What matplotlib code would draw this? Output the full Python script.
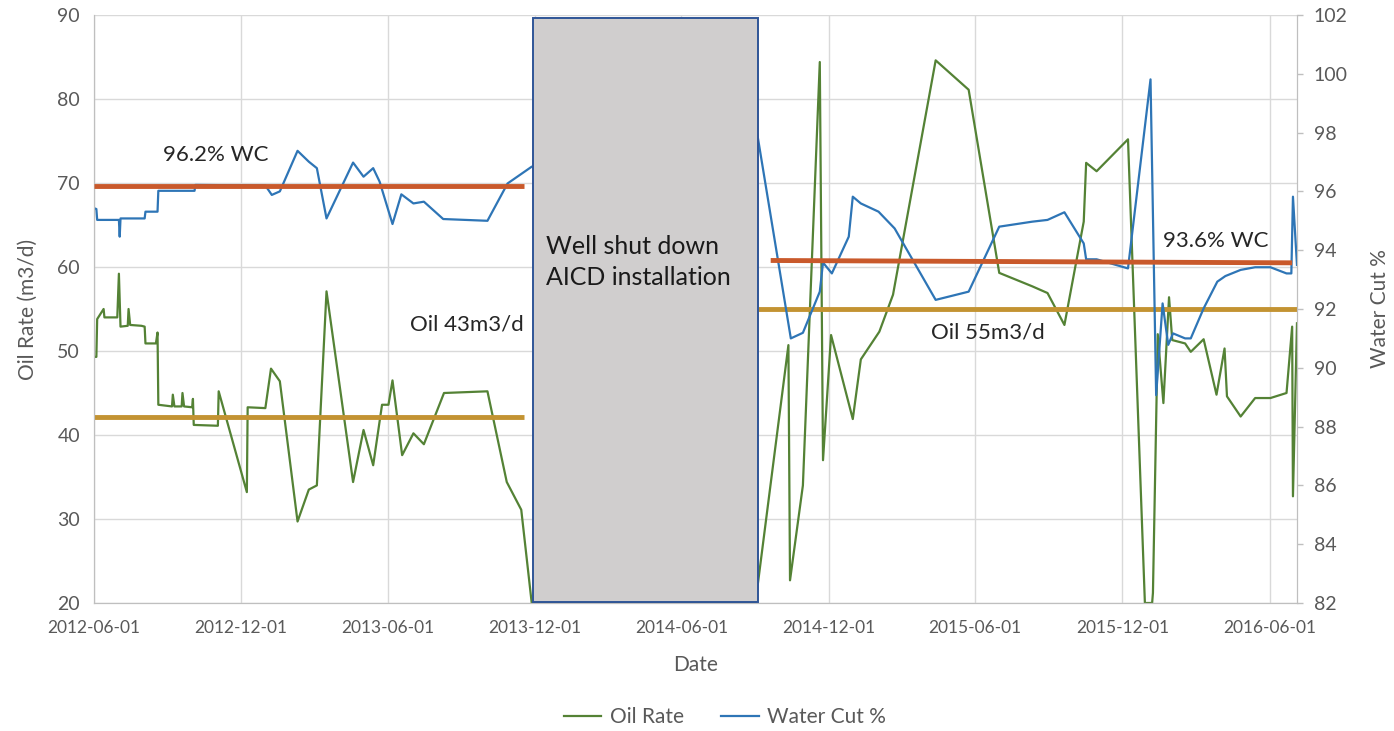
import pandas as pd
import numpy as np
import matplotlib
matplotlib.use('Agg')
import matplotlib.pyplot as plt
import matplotlib.dates as mdates
from matplotlib.patches import Rectangle

plt.rcParams['font.family'] = ['Lato', 'DejaVu Sans']

# Oil rate (m3/d), left axis
oil_dates = ['2012-06-02', '2012-06-04', '2012-06-05', '2012-06-13', '2012-06-14', '2012-06-30',
             '2012-07-02', '2012-07-04', '2012-07-13', '2012-07-14', '2012-07-16', '2012-07-30',
             '2012-08-03', '2012-08-04', '2012-08-17', '2012-08-19', '2012-08-20', '2012-09-06',
             '2012-09-07', '2012-09-09', '2012-09-18', '2012-09-19', '2012-09-21', '2012-10-01',
             '2012-10-02', '2012-10-03', '2012-11-02', '2012-11-03', '2012-12-08', '2012-12-09',
             '2012-12-31', '2013-01-07', '2013-01-18', '2013-02-09', '2013-02-23', '2013-03-05',
             '2013-03-17', '2013-04-19', '2013-05-02', '2013-05-14', '2013-05-25', '2013-06-02',
             '2013-06-07', '2013-06-19', '2013-07-03', '2013-07-16', '2013-08-10', '2013-10-03',
             '2013-10-27', '2013-11-14', '2013-11-27', '2014-07-12', '2014-09-01', '2014-10-12',
             '2014-10-14', '2014-10-30', '2014-11-20', '2014-11-24', '2014-12-04', '2014-12-31',
             '2015-01-10', '2015-02-02', '2015-02-19', '2015-04-13', '2015-05-24', '2015-07-01',
             '2015-08-11', '2015-08-30', '2015-09-20', '2015-10-14', '2015-10-17', '2015-10-30',
             '2015-12-08', '2015-12-29', '2016-01-07', '2016-01-08', '2016-01-14', '2016-01-21',
             '2016-01-28', '2016-02-01', '2016-02-17', '2016-02-24', '2016-03-11', '2016-03-27',
             '2016-04-06', '2016-04-09', '2016-04-26', '2016-05-14', '2016-06-02', '2016-06-22',
             '2016-06-29', '2016-06-30', '2016-07-05']
oil_rate = [49.3, 49.3, 53.8, 55.0, 54.0, 54.0,
            59.2, 52.9, 53.0, 55.0, 53.1, 53.0,
            52.9, 50.9, 50.9, 52.2, 43.6, 43.4,
            44.8, 43.4, 43.4, 45.0, 43.4, 43.3,
            44.3, 41.2, 41.1, 45.2, 33.2, 43.3,
            43.2, 47.9, 46.4, 29.7, 33.5, 34.0,
            57.1, 34.4, 40.6, 36.4, 43.6, 43.6,
            46.5, 37.6, 40.2, 38.9, 45.0, 45.2,
            34.4, 31.1, 20.0, 20.0, 20.0, 50.7,
            22.7, 34.0, 84.4, 37.0, 51.9, 41.9,
            49.0, 52.3, 56.7, 84.6, 81.1, 59.3,
            57.7, 56.9, 53.1, 65.4, 72.4, 71.4,
            75.2, 20.0, 20.0, 21.2, 52.0, 43.8,
            56.4, 51.3, 50.9, 49.9, 51.4, 44.8,
            50.3, 44.6, 42.2, 44.4, 44.4, 45.0,
            52.9, 32.7, 53.3]

# Water cut (%), right axis
wc_dates = ['2012-06-02', '2012-06-04', '2012-06-05', '2012-07-02', '2012-07-03', '2012-07-04',
            '2012-08-03', '2012-08-04', '2012-08-19', '2012-08-20', '2012-10-04', '2012-10-05',
            '2012-12-31', '2013-01-08', '2013-01-18', '2013-02-09', '2013-02-23', '2013-03-05',
            '2013-03-17', '2013-04-19', '2013-05-02', '2013-05-14', '2013-05-22', '2013-06-07',
            '2013-06-18', '2013-07-03', '2013-07-16', '2013-08-09', '2013-10-03', '2013-10-28',
            '2013-11-27', '2014-09-03', '2014-10-15', '2014-10-30', '2014-11-20', '2014-11-24',
            '2014-12-05', '2014-12-26', '2014-12-31', '2015-01-10', '2015-02-01', '2015-02-21',
            '2015-04-13', '2015-05-24', '2015-07-01', '2015-08-11', '2015-08-30', '2015-09-20',
            '2015-10-14', '2015-10-17', '2015-10-30', '2015-12-08', '2016-01-05', '2016-01-12',
            '2016-01-20', '2016-01-27', '2016-02-02', '2016-02-17', '2016-02-24', '2016-03-11',
            '2016-03-28', '2016-04-07', '2016-04-26', '2016-05-14', '2016-06-02', '2016-06-22',
            '2016-06-28', '2016-06-30', '2016-07-05']
water_cut = [95.42, 95.40, 95.03, 95.03, 94.46, 95.08,
             95.08, 95.31, 95.31, 96.02, 96.02, 96.22,
             96.20, 95.88, 96.00, 97.38, 97.01, 96.79,
             95.08, 96.98, 96.50, 96.79, 96.33, 94.89,
             95.90, 95.59, 95.65, 95.06, 95.00, 96.27,
             96.84, 98.00, 91.00, 91.19, 92.59, 93.58,
             93.21, 94.46, 95.82, 95.59, 95.31, 94.74,
             92.31, 92.59, 94.80, 94.97, 95.03, 95.29,
             94.23, 93.69, 93.69, 93.38, 99.81, 89.07,
             92.19, 90.78, 91.17, 91.00, 91.00, 92.02,
             92.93, 93.12, 93.33, 93.42, 93.42, 93.21,
             93.21, 95.82, 93.50]

# average levels before / after the AICD installation
wc_level_dates = [['2012-06-01', '2013-11-18'], ['2014-09-20', '2016-06-29']]
wc_level_values = [[96.2, 96.2], [93.65, 93.57]]
oil_level_dates = [['2012-06-01', '2013-11-18'], ['2014-09-04', '2016-07-05']]
oil_level_values = [[42.2, 42.2], [55.0, 55.0]]

shutdown_start = '2013-11-29'
shutdown_end = '2014-09-04'

green = '#548235'
blue = '#2E75B6'
orange = '#C9592B'
gold = '#C39332'
grey_text = '#595959'

fig = plt.figure(figsize=(13.94, 7.31), dpi=100)
ax = fig.add_axes([0.0674, 0.1751, 0.8630, 0.8044])
ax2 = ax.twinx()

l1, = ax.plot(pd.to_datetime(oil_dates), oil_rate, color=green, lw=1.6, label='Oil Rate', zorder=2)
for d, v in zip(oil_level_dates, oil_level_values):
    ax.plot(pd.to_datetime(d), v, color=gold, lw=3.5, solid_capstyle='butt', zorder=3)

l2, = ax2.plot(pd.to_datetime(wc_dates), water_cut, color=blue, lw=1.6, label='Water Cut %', zorder=2)
for d, v in zip(wc_level_dates, wc_level_values):
    ax2.plot(pd.to_datetime(d), v, color=orange, lw=3.5, solid_capstyle='butt', zorder=3)

# shut-down box drawn over everything
x0 = mdates.date2num(pd.Timestamp(shutdown_start))
x1 = mdates.date2num(pd.Timestamp(shutdown_end))
ax2.add_patch(Rectangle((x0, 82.03), x1 - x0, 101.9 - 82.03, facecolor='#D0CECE',
                        edgecolor='#2F5597', lw=1.4, zorder=5))
ax2.text(pd.Timestamp('2013-12-15'), 93.6, 'Well shut down\nAICD installation',
         fontsize=18, color='#1A1A1A', ha='left', va='center', linespacing=1.45, zorder=6)

ax2.text(pd.Timestamp('2012-08-26'), 97.24, '96.2% WC', fontsize=16, color='#262626', va='center')
ax2.text(pd.Timestamp('2016-01-21'), 94.31, '93.6% WC', fontsize=16, color='#262626', va='center')
ax.text(pd.Timestamp('2013-06-29'), 53.2, 'Oil 43m3/d', fontsize=16, color='#262626', va='center')
ax.text(pd.Timestamp('2015-04-07'), 52.26, 'Oil 55m3/d', fontsize=16, color='#262626', va='center')

# axes
ax.set_xlim(pd.Timestamp('2012-06-01'), pd.Timestamp('2016-07-05'))
ax.set_ylim(20, 90)
ax.set_yticks(np.arange(20, 91, 10))
ax2.set_ylim(82, 102)
ax2.set_yticks(np.arange(82, 103, 2))

tick_dates = pd.date_range('2012-06-01', '2016-06-01', freq='6MS')
ax.set_xticks(tick_dates)
ax.set_xticklabels([d.strftime('%Y-%m-%d') for d in tick_dates])
ax.grid(True, color='#D9D9D9', lw=1)
ax.set_axisbelow(True)

for a in (ax, ax2):
    for s in a.spines.values():
        s.set_color('#BFBFBF')
    a.spines['top'].set_visible(False)

ax.tick_params(axis='x', length=0, pad=12, labelsize=12.5, labelcolor=grey_text)
ax.tick_params(axis='y', length=0, pad=10, labelsize=14, labelcolor=grey_text)
ax2.tick_params(axis='y', length=4, width=1, color='#BFBFBF', pad=8, labelsize=14, labelcolor=grey_text)

ax.set_xlabel('Date', fontsize=15, color=grey_text, labelpad=14)
ax.set_ylabel('Oil Rate (m3/d)', fontsize=15, color=grey_text, labelpad=14)
ax2.set_ylabel('Water Cut %', fontsize=15, color=grey_text, labelpad=16, rotation=90)

leg = fig.legend(handles=[l1, l2], loc='center', bbox_to_anchor=(0.520, 0.019), ncol=2,
                 frameon=False, fontsize=15, handlelength=1.8, columnspacing=1.8, handletextpad=0.4)
for t in leg.get_texts():
    t.set_color(grey_text)

fig.savefig('out.png', dpi=100)
